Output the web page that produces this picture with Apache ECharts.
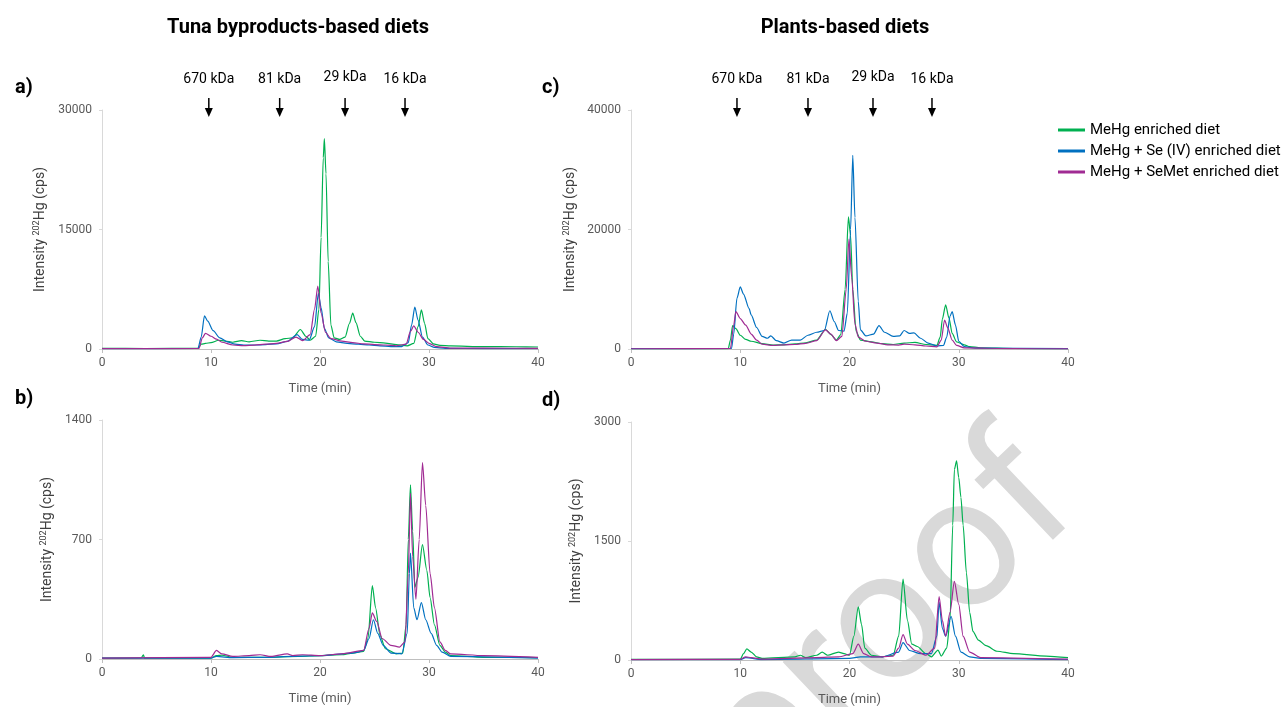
<!DOCTYPE html>
<html>
<head>
<meta charset="utf-8">
<script src="https://cdn.jsdelivr.net/npm/echarts@6/dist/echarts.min.js"></script>
<style>
  html, body { margin: 0; padding: 0; background: #fff; }
  #chart { width: 1286px; height: 707px; }
</style>
</head>
<body>
<div id="chart"></div>
<script>
const seriesNames = ['MeHg enriched diet', 'MeHg + Se (IV) enriched diet', 'MeHg + SeMet enriched diet'];
const seriesColors = ['#00b050', '#0070c0', '#a02b93'];

const markerLabels = ['670 kDa', '81 kDa', '29 kDa', '16 kDa'];
const markerTimesTuna = [9.8, 16.3, 22.3, 27.8];
const markerTimesPlants = [9.7, 16.2, 22.15, 27.55];

const yMax = [30000, 40000, 1400, 3000];

// panel a) tuna byproducts, time (min) / intensity (cps)
const tunaA_MeHg = [[0,80],[4,60],[8.8,80],[9.1,600],[9.5,700],[10,800],[10.7,1100],[11.3,1000],[12,850],[12.8,1050],[13.5,900],[14.5,1100],[15.3,1000],[16,1000],[16.8,1300],[17.5,1400],[18.2,2450],[18.7,1600],[19.1,1100],[19.6,1600],[19.9,5000],[20.1,14000],[20.3,24000],[20.4,26400],[20.55,22000],[20.75,11000],[21.0,3000],[21.3,1400],[21.8,1200],[22.3,1500],[22.7,3200],[23.0,4500],[23.3,3300],[23.7,1600],[24.1,1000],[25,850],[26,750],[27,550],[28,400],[28.6,700],[29.0,2800],[29.3,4900],[29.6,3200],[29.9,1300],[30.4,650],[31,450],[32,380],[35,300],[38,280],[40,250]];
const tunaA_SeIV = [[0,50],[8.8,60],[9.1,1500],[9.4,4150],[9.7,3500],[10.2,2300],[10.8,1400],[11.5,900],[12.2,600],[13,500],[14,500],[15,550],[16,650],[17,950],[17.9,1800],[18.4,1200],[19.0,1100],[19.5,2800],[19.85,7000],[20.1,5200],[20.4,2600],[20.8,1400],[21.5,900],[22.5,700],[23.5,600],[24.5,500],[25.5,400],[26.5,300],[27.5,300],[28.1,800],[28.4,3000],[28.7,5250],[29.0,3600],[29.4,1500],[29.9,500],[30.5,200],[31.5,80],[35,50],[40,40]];
const tunaA_SeMet = [[0,40],[8.9,60],[9.2,1400],[9.5,1950],[10,1600],[10.5,1250],[11,850],[12,500],[13,420],[14,480],[15,600],[16,700],[17,950],[17.8,1500],[18.4,1050],[19.1,1800],[19.5,5000],[19.8,7900],[20.1,4500],[20.5,2100],[21,1300],[22,1000],[23,800],[24,650],[25,550],[26,500],[27,400],[27.9,600],[28.3,2200],[28.6,2900],[29,2100],[29.5,1200],[30,700],[30.7,300],[32,120],[35,100],[40,80]];

// panel c) plants
const plantsC_MeHg = [[0,50],[8.9,60],[9.1,1500],[9.3,3900],[9.6,3400],[10,2300],[10.5,1600],[11,1300],[12,900],[13,650],[14,700],[15,850],[16,1050],[17,1500],[17.8,3300],[18.3,2400],[18.8,1500],[19.2,2400],[19.6,10000],[19.9,22100],[20.1,19000],[20.3,10000],[20.6,3000],[21,1500],[22,1200],[23,900],[24,750],[25,1000],[26,1100],[27,750],[28,600],[28.3,2000],[28.5,5000],[28.8,7400],[29.1,5200],[29.4,2600],[29.8,1200],[30.5,700],[31,400],[32,200],[35,80],[40,50]];
const plantsC_SeIV = [[0,60],[9.2,80],[9.4,2500],[9.7,8500],[10.0,10400],[10.3,9200],[10.8,6800],[11.0,5700],[11.5,3600],[12,2100],[12.5,1800],[12.8,2200],[13.3,1400],[14,1000],[14.7,1500],[15.5,1500],[16.2,2300],[17,2800],[17.7,3100],[18.2,6400],[18.6,4600],[19.0,3100],[19.5,3000],[19.8,6000],[20.1,20000],[20.3,32400],[20.5,22000],[20.8,8000],[21.0,3200],[21.5,2200],[22.2,2500],[22.7,3900],[23.2,2800],[24,2100],[24.6,2200],[25.0,3100],[25.5,2600],[25.9,2700],[26.5,1800],[27.2,1000],[28.0,500],[28.6,600],[28.9,2000],[29.2,5500],[29.4,6250],[29.7,4000],[30.0,1300],[30.5,400],[31.5,150],[40,50]];
const plantsC_SeMet = [[0,40],[9.1,100],[9.4,4000],[9.6,6250],[10,5100],[10.5,4000],[11,2500],[11.5,1500],[12,800],[13,600],[14,700],[15,750],[16,950],[17,1400],[17.8,3200],[18.3,2500],[18.8,1400],[19.3,2100],[19.7,10000],[19.95,18400],[20.2,12000],[20.5,4200],[20.8,2000],[21.5,1300],[22.5,1000],[23.5,700],[24.5,650],[25,800],[26,700],[27,500],[28,350],[28.4,1500],[28.7,4850],[29.0,3500],[29.4,1500],[29.8,600],[30.5,200],[35,50],[40,30]];

// panel b) tuna byproducts
const tunaB_MeHg = [[0,5],[3.6,6],[3.8,25],[3.9,5],[10,5],[10.5,20],[11,22],[12,10],[15,10],[18,15],[20,20],[22,25],[23,35],[24,45],[24.4,120],[24.8,430],[25.1,300],[25.5,140],[26,60],[27,30],[27.6,35],[27.9,200],[28.1,700],[28.3,1020],[28.5,750],[28.7,420],[29.0,480],[29.4,670],[29.8,520],[30.1,360],[30.5,200],[31,80],[31.5,40],[32,20],[35,10],[40,8]];
const tunaB_SeIV = [[0,5],[10,5],[10.5,15],[12,8],[15,10],[20,20],[23,35],[23.5,40],[24,50],[24.5,120],[24.9,230],[25.3,150],[25.8,80],[26.5,35],[27.5,30],[28,150],[28.2,500],[28.3,620],[28.6,300],[28.9,230],[29.3,330],[29.7,230],[30.2,150],[30.7,80],[31.2,40],[32,15],[40,5]];
const tunaB_SeMet = [[0,5],[10,10],[10.5,50],[11,30],[12,15],[13.5,20],[14.5,25],[15.5,15],[17,30],[17.5,20],[18.4,25],[20,20],[22,30],[24,50],[24.5,180],[24.8,270],[25.2,220],[25.7,120],[26.5,80],[27.3,70],[27.8,100],[28.1,500],[28.3,970],[28.5,600],[28.8,350],[29.1,700],[29.4,1150],[29.7,900],[30.1,500],[30.5,300],[31,100],[31.5,50],[32,30],[35,20],[40,10]];

// panel d) plants
const plantsD_MeHg = [[0,8],[10,10],[10.3,80],[10.6,140],[11,100],[11.5,40],[12,20],[15,40],[15.5,60],[16,30],[17,60],[17.5,100],[18,60],[19,100],[19.5,80],[20,60],[20.4,300],[20.8,670],[21.1,450],[21.4,150],[22,60],[23,40],[24,60],[24.5,300],[24.9,1020],[25.3,500],[25.7,200],[26.2,170],[27,80],[27.5,40],[28.1,125],[28.4,50],[28.9,150],[29.2,500],[29.45,1700],[29.6,2400],[29.8,2510],[30.0,2300],[30.2,2050],[30.4,1700],[30.7,1100],[31.0,600],[31.3,360],[31.8,250],[32.5,180],[33.5,110],[35,80],[38,50],[40,30]];
const plantsD_SeIV = [[0,5],[10,5],[10.5,30],[12,5],[20,20],[21,40],[23,40],[24.5,100],[24.9,220],[25.5,120],[26.5,80],[27.5,80],[28,300],[28.2,730],[28.5,400],[28.8,300],[29.3,550],[29.7,300],[30.2,100],[31,40],[32,20],[40,5]];
const plantsD_SeMet = [[0,5],[10,8],[10.5,40],[11,30],[12,10],[17,30],[19,40],[20.3,80],[20.8,200],[21.3,80],[22,40],[23,40],[24,50],[24.5,150],[24.9,320],[25.3,200],[26,120],[27,60],[27.8,150],[28.2,800],[28.5,500],[28.8,300],[29.2,600],[29.6,990],[30,700],[30.4,300],[31,100],[32,30],[40,10]];

const panelData = [
  [tunaA_MeHg, tunaA_SeIV, tunaA_SeMet],
  [plantsC_MeHg, plantsC_SeIV, plantsC_SeMet],
  [tunaB_MeHg, tunaB_SeIV, tunaB_SeMet],
  [plantsD_MeHg, plantsD_SeIV, plantsD_SeMet]
];

const FONT = 'Roboto, "Noto Sans", sans-serif';

const grids = [
  { left: 102, right: 748, top: 110, bottom: 358 },
  { left: 631, right: 218, top: 110, bottom: 358 },
  { left: 102, right: 748, top: 420, bottom: 48 },
  { left: 631, right: 218, top: 422, bottom: 45 }
];
const yNameGaps = [54, 53, 47, 47];

const xAxes = grids.map((g, i) => ({
  type: 'value',
  gridIndex: i,
  min: 0,
  max: 40,
  interval: 10,
  name: 'Time (min)',
  nameLocation: 'middle',
  nameGap: 33,
  nameTextStyle: { color: '#595959', fontSize: 13, fontFamily: FONT },
  axisLine: { show: true, lineStyle: { color: '#bfbfbf', width: 1 } },
  axisTick: { show: true, length: 4, lineStyle: { color: '#bfbfbf' } },
  axisLabel: { color: '#595959', fontSize: 12, margin: 8, fontFamily: FONT },
  splitLine: { show: false }
}));

const yAxes = grids.map((g, i) => ({
  type: 'value',
  gridIndex: i,
  min: 0,
  max: yMax[i],
  interval: yMax[i] / 2,
  name: 'Intensity {sup|202}Hg (cps)',
  nameLocation: 'middle',
  nameGap: yNameGaps[i],
  nameTextStyle: {
    color: '#404040', fontSize: 14, fontFamily: FONT,
    rich: { sup: { fontSize: 9, color: '#404040', fontFamily: FONT, padding: [0, 0, 7, 0] } }
  },
  axisLine: { show: true, lineStyle: { color: '#d9d9d9', width: 1 } },
  axisTick: { show: true, length: 3, lineStyle: { color: '#d9d9d9' } },
  axisLabel: { color: '#595959', fontSize: 12, margin: 10, fontFamily: FONT, formatter: v => String(v) },
  splitLine: { show: false }
}));

const series = [];
panelData.forEach((panel, gi) => {
  panel.forEach((data, si) => {
    series.push({
      name: seriesNames[si],
      type: 'line',
      xAxisIndex: gi,
      yAxisIndex: gi,
      data: data,
      showSymbol: false,
      smooth: 0.25,
      smoothMonotone: 'x',
      lineStyle: { color: seriesColors[si], width: 1.2 },
      itemStyle: { color: seriesColors[si] },
      z: 3
    });
  });
});

const chart = echarts.init(document.getElementById('chart'), null, { renderer: 'canvas' });

const option = {
  backgroundColor: '#fff',
  animation: false,
  title: [
    { text: 'Tuna byproducts-based diets', left: 293, top: 13, textAlign: 'center',
      textStyle: { fontSize: 20, fontWeight: 'bold', color: '#000', fontFamily: FONT } },
    { text: 'Plants-based diets', left: 840, top: 13, textAlign: 'center',
      textStyle: { fontSize: 20, fontWeight: 'bold', color: '#000', fontFamily: FONT } },
    { text: 'a)', left: 10, top: 73, textStyle: { fontSize: 20, fontWeight: 'bold', color: '#000', fontFamily: FONT } },
    { text: 'c)', left: 537, top: 73, textStyle: { fontSize: 20, fontWeight: 'bold', color: '#000', fontFamily: FONT } },
    { text: 'b)', left: 10, top: 384, textStyle: { fontSize: 20, fontWeight: 'bold', color: '#000', fontFamily: FONT } },
    { text: 'd)', left: 537, top: 386, textStyle: { fontSize: 20, fontWeight: 'bold', color: '#000', fontFamily: FONT } }
  ],
  legend: {
    data: seriesNames,
    orient: 'vertical',
    left: 1053,
    top: 117,
    icon: 'rect',
    itemWidth: 27,
    itemHeight: 3,
    itemGap: 5,
    textStyle: { fontSize: 15, color: '#000', fontFamily: FONT, lineHeight: 16 }
  },
  grid: grids,
  xAxis: xAxes,
  yAxis: yAxes,
  series: series
};

chart.setOption(option);

function buildGraphics() {
  const els = [];
  // watermark
  els.push({
    type: 'text',
    x: 893, y: 628,
    rotation: 0.76,
    z: 0,
    silent: true,
    style: {
      text: 'proof',
      fill: '#d9d9d9',
      font: '185px ' + FONT,
      align: 'center',
      verticalAlign: 'middle'
    }
  });
  const addMarkers = (gridIndex, times) => {
    times.forEach((t, k) => {
      const x = chart.convertToPixel({ gridIndex: gridIndex }, [t, 0])[0];
      els.push({
        type: 'text', x: x, y: k === 2 ? 77 : 79, z: 10,
        style: { text: markerLabels[k], fill: '#000', font: '14px ' + FONT, align: 'center', verticalAlign: 'middle' }
      });
      els.push({
        type: 'line', z: 10,
        shape: { x1: x, y1: 98, x2: x, y2: 110 },
        style: { stroke: '#000', lineWidth: 1.5 }
      });
      els.push({
        type: 'polygon', z: 10,
        shape: { points: [[x - 4, 108], [x + 4, 108], [x, 117]] },
        style: { fill: '#000' }
      });
    });
  };
  addMarkers(0, markerTimesTuna);
  addMarkers(1, markerTimesPlants);
  chart.setOption({ graphic: { elements: els } });
}

buildGraphics();
</script>
</body>
</html>
